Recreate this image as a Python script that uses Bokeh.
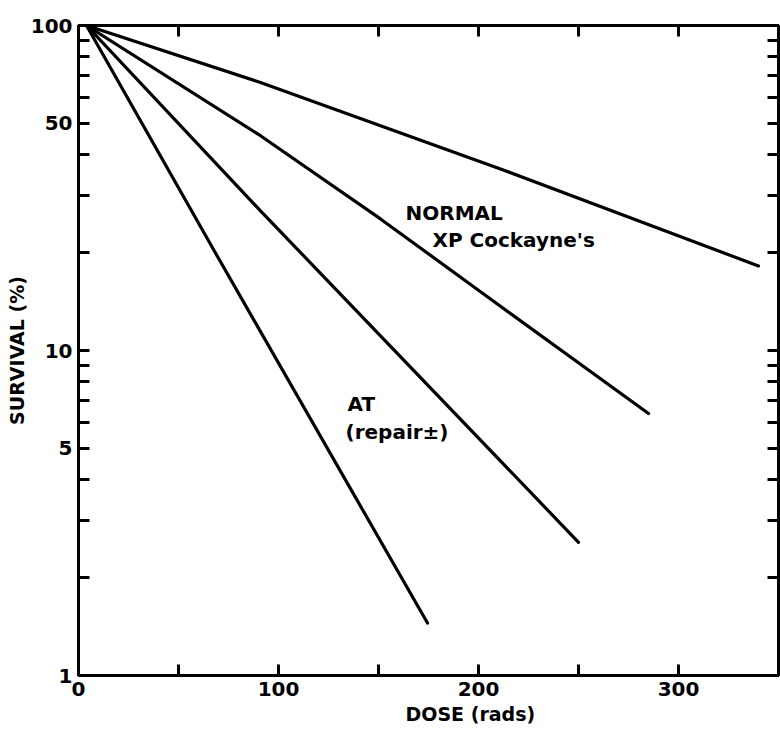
from bokeh.plotting import figure
from bokeh.models import LinearAxis, LogAxis, FixedTicker, Label, Title
from bokeh.embed import file_html
from bokeh.resources import INLINE

# ---- data (dose in rads, survival in %) ----
dose_normal = [4, 91, 211, 340]
survival_normal = [100, 66.8, 36.2, 18.2]

dose_xp = [4, 91, 151, 206, 285]
survival_xp = [100, 45.8, 25.4, 14.4, 6.4]

dose_third = [4, 91, 250]
survival_third = [100, 26.9, 2.57]

dose_at = [4, 68, 174.5]
survival_at = [100, 20.2, 1.45]

x_ticks = [0, 50, 100, 150, 200, 250, 300]
x_tick_labels = ["0", "", "100", "", "200", "", "300"]
y_ticks = [1, 2, 3, 4, 5, 6, 7, 8, 9, 10, 20, 30, 40, 50, 60, 70, 80, 90, 100]
y_tick_labels = ["1", "", "", "", "5", "", "", "", "", "10", "", "", "", "50", "", "", "", "", "100"]

FONT = "DejaVu Sans"

p = figure(width=780, height=741, x_range=(0, 350), y_range=(1, 100),
           y_axis_type="log", output_backend="svg", toolbar_location=None,
           min_border_left=78, min_border_right=2, min_border_top=25, min_border_bottom=66)
p.grid.visible = False
p.outline_line_color = "black"
p.outline_line_width = 3
p.background_fill_color = "white"
p.border_fill_color = "white"

def style_axis(ax, labels=True):
    ax.axis_line_width = 3
    ax.axis_line_color = "black"
    ax.major_tick_in = 11
    ax.major_tick_out = 0
    ax.major_tick_line_width = 3
    ax.minor_tick_line_color = None
    if labels:
        ax.major_label_text_font = FONT
        ax.major_label_text_font_style = "bold"
        ax.major_label_text_font_size = "20px"
        ax.major_label_text_color = "black"
    else:
        ax.major_label_text_font_size = "0px"
        ax.major_label_standoff = 0

xax = p.xaxis[0]
xax.ticker = FixedTicker(ticks=x_ticks)
xax.major_label_overrides = {t: s for t, s in zip(x_ticks, x_tick_labels)}
style_axis(xax)
xax.major_label_standoff = 6

yax = p.yaxis[0]
yax.ticker = FixedTicker(ticks=y_ticks)
yax.major_label_overrides = {t: s for t, s in zip(y_ticks, y_tick_labels)}
style_axis(yax)
yax.major_label_standoff = 6

top = LinearAxis(ticker=FixedTicker(ticks=x_ticks),
                 major_label_overrides={t: "" for t in x_ticks})
style_axis(top, labels=False)
p.add_layout(top, "above")

right = LogAxis(ticker=FixedTicker(ticks=y_ticks),
                major_label_overrides={t: "" for t in y_ticks})
style_axis(right, labels=False)
p.add_layout(right, "right")

for xs, ys in [(dose_normal, survival_normal), (dose_xp, survival_xp),
               (dose_third, survival_third), (dose_at, survival_at)]:
    p.line(xs, ys, line_color="black", line_width=3.2, line_cap="round")

def add_label(text, x, y, size="20px"):
    p.add_layout(Label(x=x, y=y, text=text, text_font=FONT, text_font_style="bold",
                       text_font_size=size, text_color="black", text_align="left",
                       text_baseline="middle"))

add_label("NORMAL", 163.5, 26.5)
add_label("XP Cockayne's", 177, 21.9)
add_label("AT", 134.5, 6.86)
add_label("(repair\u00b1)", 133.5, 5.62)

# axis titles
xt = Title(text="DOSE (rads)", align="left", offset=327, text_font=FONT,
           text_font_style="bold", text_font_size="19px", text_color="black", standoff=5)
p.add_layout(xt, "below")
yt = Title(text="SURVIVAL (%)", align="center", text_font=FONT,
           text_font_style="bold", text_font_size="19px", text_color="black", standoff=0)
p.add_layout(yt, "left")

open("out.html", "w").write(file_html(p, INLINE))
